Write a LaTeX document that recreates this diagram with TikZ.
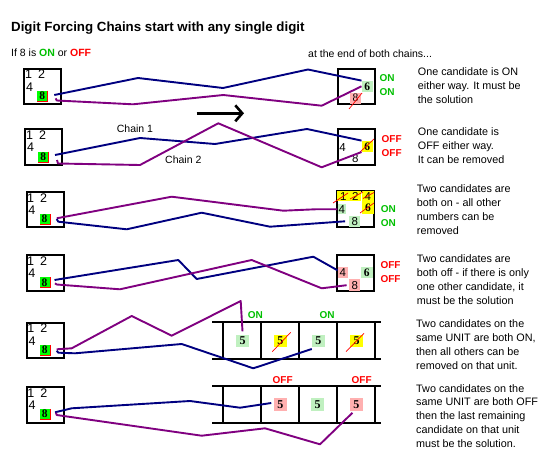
\documentclass[tikz,border=0pt]{standalone}
\usepackage{fontspec}
\setmainfont{Liberation Sans}
\newfontfamily\serifdig{Liberation Serif}
\usetikzlibrary{arrows.meta,calc}
\definecolor{navyc}{RGB}{0,0,128}
\definecolor{purplec}{RGB}{128,0,128}
\definecolor{ongreen}{RGB}{0,192,0}
\definecolor{offred}{RGB}{255,0,0}
\definecolor{litegreen}{RGB}{192,240,192}
\definecolor{litepink}{RGB}{255,176,176}
\definecolor{brightgreen}{RGB}{0,255,0}
\definecolor{yel}{RGB}{255,255,0}
\tikzset{
  bigbox/.style={draw=black, line width=2pt, minimum width=37pt, minimum height=35.5pt, inner sep=0pt},
  dig/.style={inner sep=0pt, font=\fontsize{12.5}{12.5}\selectfont},
  sdig/.style={inner sep=0pt, font=\fontsize{11.5}{11.5}\selectfont},
  bdig/.style={font=\serifdig\bfseries\fontsize{11.5}{11.5}\selectfont},
  rdig/.style={font=\serifdig\fontsize{11.5}{11.5}\selectfont},
  cell/.style={inner sep=0pt, minimum width=11pt, minimum height=11pt},
  ucell/.style={inner sep=0pt, minimum width=12.7pt, minimum height=12.2pt, font=\serifdig\bfseries\fontsize{12}{12}\selectfont},
  eightcell/.style={inner sep=0pt, minimum width=10pt, minimum height=10pt, fill=brightgreen, font=\serifdig\bfseries\fontsize{11.5}{11.5}\selectfont},
  onlab/.style={inner sep=0pt, text=ongreen, font=\bfseries\fontsize{10}{10}\selectfont},
  offlab/.style={inner sep=0pt, text=offred, font=\bfseries\fontsize{10}{10}\selectfont},
  body/.style={anchor=north west, inner sep=0pt, align=left, font=\fontsize{10.8}{14}\selectfont},
  lbl/.style={anchor=base west, inner sep=0pt, font=\fontsize{10.5}{10.5}\selectfont},
  bluechain/.style={draw=navyc, line width=1.9pt, line join=round},
  purplechain/.style={draw=purplec, line width=1.9pt, line join=round},
  strike/.style={draw=red, line width=0.7pt},
  unitline/.style={draw=black, line width=2pt}
}
\newcommand\LeftBox[3]{%
  \begin{scope}[shift={(#2,#3)}]
    \node[bigbox] (#1) at (0,0) {};
    \node[dig] (#1-one) at (-14.3,-11.9) {1};
    \node[dig] (#1-two) at (-1.3,-11.9) {2};
    \node[dig] (#1-four) at (-13.1,0.3) {4};
    \node[eightcell] (#1-e) at (-0.5,9.3) {8};
    \draw[red, line width=1pt] (5,4.3) -- (5,14.8) -- (-5.5,14.8);
  \end{scope}}
\newcommand\UnitRow[2]{%
  \draw[unitline] (212.3,#1) -- (380.7,#1);
  \draw[unitline] (212.3,#2) -- (380.7,#2);
  \foreach \xx in {223,261,299.3,337.3,375.3} \draw[unitline] (\xx,#1) -- (\xx,#2);}
\begin{document}
\begin{tikzpicture}[x=1pt,y=-1pt]
\fill[white] (0,0) rectangle (544,471);
\useasboundingbox (0,0) rectangle (544,471);

% headings
\node[anchor=base west, inner sep=0pt, font=\bfseries\fontsize{13.3}{13.3}\selectfont] (title) at (11,31.7) {Digit Forcing Chains start with any single digit};
\node[lbl] (iftxt) at (11,56.7) {If 8 is \textcolor{ongreen}{\bfseries ON} or \textcolor{offred}{\bfseries OFF}};
\node[lbl] (endtxt) at (308,57.3) {at the end of both chains...};

% left boxes
\LeftBox{L1}{42.8}{86.4}
\LeftBox{L2}{43.8}{147.2}
\LeftBox{L3}{45}{209.7}
\LeftBox{L4}{45}{273}
\LeftBox{L5}{45.2}{340.5}
\LeftBox{L6}{45.2}{404.8}

% row 1 right
\node[bigbox] (R1) at (356.2,86.4) {};
\node[cell, fill=litegreen, bdig] (R1six) at (367.2,86.3) {6};
\node[cell, fill=litepink, rdig] (R1eight) at (355.5,98) {8};
\draw[strike] (349,109) -- (362,93);
\node[onlab] (R1on1) at (387,78.3) {ON};
\node[onlab] (R1on2) at (387,92) {ON};

% row 2 right
\node[bigbox] (R2) at (356.2,147) {};
\node[sdig] (R2four) at (342.5,147.5) {4};
\node[sdig] (R2eight) at (355.2,158.7) {8};
\node[cell, fill=yel, bdig] (R2six) at (367.2,146.3) {6};
\draw[strike] (359,153) -- (374,139);
\node[offlab] (R2off1) at (391.7,138.7) {OFF};
\node[offlab] (R2off2) at (391.7,153) {OFF};

% row 3 right
\node[bigbox] (R3) at (355.8,208.8) {};
\node[cell, fill=yel, minimum width=12.3pt, minimum height=10.5pt, sdig] (R3one) at (343.2,196.2) {1};
\node[cell, fill=yel, minimum width=12.3pt, minimum height=10.5pt, sdig] (R3two) at (355.3,196.2) {2};
\node[cell, fill=yel, minimum width=12.8pt, minimum height=10.5pt, sdig] (R3tfour) at (367.9,196.2) {4};
\node[cell, fill=yel, minimum width=12.8pt, minimum height=12.6pt, bdig] (R3six) at (367.9,207.7) {6};
\node[cell, fill=litegreen, minimum width=8.5pt, minimum height=10.5pt, sdig] (R3four) at (341.8,209.2) {4};
\node[cell, fill=litegreen, minimum width=10.7pt, sdig] (R3eight) at (354.7,221.3) {8};
\draw[strike] (333,203) -- (348,193);
\draw[strike] (350,199) -- (363,192);
\draw[strike] (363,198.5) -- (374,192.5);
\draw[strike] (360,213) -- (374,203);
\node[onlab] (R3on1) at (388.3,208.7) {ON};
\node[onlab] (R3on2) at (388.3,222.7) {ON};

% row 4 right
\node[bigbox] (R4) at (355.8,272.8) {};
\node[cell, fill=litepink, minimum width=10pt, sdig] (R4four) at (342.7,272.8) {4};
\node[cell, fill=litegreen, minimum width=11.7pt, bdig] (R4six) at (366.8,272.8) {6};
\node[cell, fill=litepink, minimum width=10.7pt, minimum height=11.7pt, sdig] (R4eight) at (354.7,285.2) {8};
\node[offlab] (R4off1) at (390.5,265.3) {OFF};
\node[offlab] (R4off2) at (390.5,279.3) {OFF};

% unit rows
\UnitRow{322.3}{359}
\UnitRow{386}{423}
\node[ucell, fill=litegreen] (U5a) at (242.5,340.7) {5};
\node[ucell, fill=yel] (U5b) at (280.3,340.7) {5};
\node[ucell, fill=litegreen] (U5c) at (318.3,340.7) {5};
\node[ucell, fill=yel] (U5d) at (356.7,340.7) {5};
\draw[strike] (272.3,351.7) -- (290.7,332.3);
\draw[strike] (346,351.7) -- (364,333.3);
\node[onlab] (U5on1) at (255.3,315) {ON};
\node[onlab] (U5on2) at (327,315) {ON};
\node[ucell, fill=litepink] (U6a) at (280.3,404.5) {5};
\node[ucell, fill=litegreen] (U6b) at (317.5,404.5) {5};
\node[ucell, fill=litepink] (U6c) at (356.3,404.5) {5};
\node[offlab] (U6off1) at (282.7,379.7) {OFF};
\node[offlab] (U6off2) at (361.7,379.7) {OFF};

% arrow and chain labels
\coordinate (arrS) at (196.7,113.3);
\coordinate (arrE) at (244,113.3);
\draw[line width=2.6pt, -{Straight Barb[length=7pt,width=16pt]}] (arrS) -- (arrE);
\node[lbl] (chain1) at (116.7,132.3) {Chain 1};
\node[lbl] (chain2) at (165,163.3) {Chain 2};

% chains row 1
\coordinate (b1s) at (54.3,95);
\coordinate (p1s) at (55.7,98.3);
\draw[bluechain] (b1s) -- (138,78) -- (223,88) -- (308,69.5) -- (R1six.north west);
\draw[purplechain] (p1s) -- (56.7,100.5) -- (133,104.3) -- (223.3,95) -- (321.7,105.7) -- (R1six.west);
% row 2
\coordinate (b2s) at (55,155);
\coordinate (p2s) at (57,160);
\draw[bluechain] (b2s) -- (140,138) -- (215,144) -- (307,129) -- (R2six.north west);
\draw[purplechain] (p2s) -- (58,163.5) -- (140,165) -- (218.3,123.3) -- (321.7,167.3) -- (R2six.south west);
% row 3
\coordinate (b3s) at (56.7,219);
\coordinate (p3s) at (56.7,218.3);
\draw[purplechain] (p3s) -- (171.7,196.7) -- (283.3,210.7) -- (315,209.3) -- (R3four.west);
\draw[bluechain] (b3s) -- (58.3,221.7) -- (126.7,229.3) -- (201.7,212.7) -- (270,226.7) -- ([xshift=-4pt]R3eight.west);
% row 4
\coordinate (b4s) at (54.5,280);
\coordinate (p4s) at (55,283.3);
\draw[bluechain] (b4s) -- (178.3,260) -- (196.7,279) -- (313.3,256.7) -- ([yshift=2.5pt]R4four.west);
\draw[purplechain] (p4s) -- (56.7,284.5) -- (120,289.3) -- (251.7,260) -- (321.7,288.3) -- ([xshift=-2.5pt]R4eight.west);
% row 5
\coordinate (p5s) at (56.7,349.3);
\coordinate (b5s) at (56.7,350.7);
\draw[purplechain] (p5s) -- (71.7,348.3) -- (131.7,316) -- (171.7,335.7) -- (240.7,301) -- ([yshift=3pt]U5a.north);
\draw[bluechain] (b5s) -- (58.3,352.7) -- (75,353.3) -- (181.7,344) -- (253.3,368.3) -- ([yshift=-2pt]U5c.south west);
% row 6
\coordinate (b6s) at (55,412.3);
\coordinate (p6s) at (56,412.7);
\draw[bluechain] (b6s) -- (71.7,408.3) -- (190,401) -- (240,407.7) -- ([xshift=-2.5pt,yshift=1.5pt]U6a.west);
\draw[purplechain] (p6s) -- (56.7,415) -- (201.7,435.7) -- (265,428.3) -- (320,444.3) -- ([xshift=2.7pt,yshift=-2pt]U6c.south west);

% explanations
\node[body] (t1) at (417.7,67.4) {One candidate is ON\\either way. It must be\\the solution};
\node[body] (t2) at (417.7,127.4) {One candidate is\\OFF either way.\\It can be removed};
\node[body] (t3) at (416.7,184.7) {Two candidates are\\both on - all other\\numbers can be\\removed};
\node[body] (t4) at (416.7,254.7) {Two candidates are\\both off - if there is only\\one other candidate, it\\must be the solution};
\node[body] (t5) at (416,319.7) {Two candidates on the\\same UNIT are both ON,\\then all others can be\\removed on that unit.};
\node[body, font=\fontsize{10.8}{13.75}\selectfont] (t6) at (416,384.1) {Two candidates on the\\same UNIT are both OFF\\then the last remaining\\candidate on that unit\\must be the solution.};
\end{tikzpicture}
\end{document}
